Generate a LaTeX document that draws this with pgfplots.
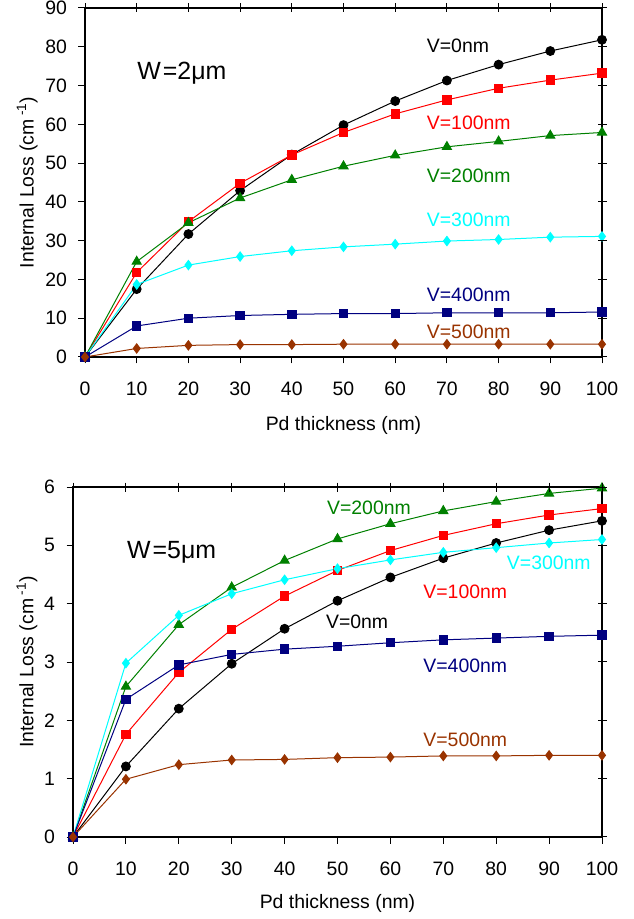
\documentclass[border=0pt]{standalone}
\usepackage{fontspec}
\setmainfont{Liberation Sans}
\usepackage{pgfplots}
\pgfplotsset{compat=1.18}

\definecolor{cV0}{RGB}{0,0,0}
\definecolor{cV100}{RGB}{255,0,0}
\definecolor{cV200}{RGB}{0,128,0}
\definecolor{cV300}{RGB}{0,255,255}
\definecolor{cV400}{RGB}{0,0,128}
\definecolor{cV500}{RGB}{153,51,0}

\newcommand{\lblfont}{\fontsize{19.5}{23}\selectfont}

\pgfplotsset{
  lossaxis/.style={
    scale only axis,
    xmin=0, xmax=100, ymin=0,
    xtick={0,10,...,100},
    tick align=outside, xtick pos=left, ytick pos=left,
    major tick length=6.5bp,
    axis line style={line width=1.2bp},
    every tick/.style={black, line width=1bp},
    tick label style={font=\fontsize{19.5}{22}\selectfont},
    xticklabel style={yshift=-15bp},
    yticklabel style={xshift=-8bp},
    label style={font=\lblfont},
    /pgf/number format/assume math mode=true,
    xlabel={Pd thickness (nm)},
    ylabel={Internal Loss (cm\,\textsuperscript{-1})},
  },
  tickover/.style={
    scale only axis,
    xmin=0, xmax=100, ymin=0,
    xtick={0,10,...,100},
    tick align=center, xtick pos=right, ytick pos=right,
    major tick length=9bp,
    axis line style={draw=none},
    every tick/.style={black, line width=1bp},
    xticklabels={}, yticklabels={},
  },
  s0/.style={cV0, line width=1bp, mark=*, mark size=4.4bp, mark options={solid, fill=cV0}},
  s100/.style={cV100, line width=1bp, mark=square*, mark size=4.2bp, mark options={solid, fill=cV100}},
  s200/.style={cV200, line width=1bp, mark=triangle*, mark size=5.2bp, mark options={solid, fill=cV200}},
  s300/.style={cV300, line width=1bp, mark=diamond*, mark size=4.6bp, mark options={solid, fill=cV300}},
  s400/.style={cV400, line width=1bp, mark=square*, mark size=4.2bp, mark options={solid, fill=cV400}},
  s500/.style={cV500, line width=1bp, mark=diamond*, mark size=4.6bp, mark options={solid, fill=cV500}},
}
\tikzset{vlab/.style={anchor=west, inner sep=0pt, font=\lblfont}}

\begin{document}
\begin{tikzpicture}
\useasboundingbox (0,0) rectangle (634bp,919bp);

% W = 2 um
\begin{axis}[lossaxis,
  at={(85bp,562bp)}, anchor=south west,
  width=517bp, height=349bp,
  ymax=90, ytick={0,10,...,90},
  xlabel style={at={(axis description cs:0.5,-0.195)}, anchor=center},
  ylabel style={at={(axis description cs:-0.112,0.5)}, anchor=center},
]
\addplot[s0] coordinates {(0,0) (10,17.5) (20,31.7) (30,42.9) (40,52.2) (50,59.8) (60,66.0) (70,71.3) (80,75.4) (90,78.9) (100,81.8)};
\addplot[s100] coordinates {(0,0) (10,21.8) (20,34.9) (30,44.8) (40,52.1) (50,57.9) (60,62.7) (70,66.3) (80,69.3) (90,71.4) (100,73.2)};
\addplot[s200] coordinates {(0,0) (10,24.6) (20,34.6) (30,41.0) (40,45.7) (50,49.2) (60,52.0) (70,54.2) (80,55.6) (90,57.1) (100,57.9)};
\addplot[s300] coordinates {(0,0) (10,18.7) (20,23.7) (30,25.9) (40,27.4) (50,28.4) (60,29.1) (70,29.9) (80,30.3) (90,30.9) (100,31.1)};
\addplot[s400] coordinates {(0,0) (10,8.0) (20,10.0) (30,10.7) (40,11.0) (50,11.2) (60,11.2) (70,11.4) (80,11.4) (90,11.4) (100,11.6)};
\addplot[s500] coordinates {(0,0) (10,2.2) (20,3.0) (30,3.2) (40,3.2) (50,3.3) (60,3.3) (70,3.3) (80,3.3) (90,3.3) (100,3.3)};
\node[vlab, text=cV0] at (axis cs:66.1,80.2) {V=0nm};
\node[vlab, text=cV100] at (axis cs:66.1,60.4) {V=100nm};
\node[vlab, text=cV200] at (axis cs:66.1,46.7) {V=200nm};
\node[vlab, text=cV300] at (axis cs:66.1,35.3) {V=300nm};
\node[vlab, text=cV400] at (axis cs:66.1,16.0) {V=400nm};
\node[vlab, text=cV500] at (axis cs:66.1,6.4) {V=500nm};
\node[anchor=west, inner sep=0pt, font=\fontsize{25}{28}\selectfont] at (axis cs:10.1,73.2) {W\hspace{2bp}=2μm};
\end{axis}
\begin{axis}[tickover,
  at={(85bp,562bp)}, anchor=south west,
  width=517bp, height=349bp,
  ymax=90, ytick={0,10,...,90},
]
\end{axis}

% W = 5 um
\begin{axis}[lossaxis,
  at={(73bp,82bp)}, anchor=south west,
  width=529bp, height=350bp,
  ymax=6, ytick={0,1,...,6},
  xlabel style={at={(axis description cs:0.5,-0.189)}, anchor=center},
  ylabel style={at={(axis description cs:-0.087,0.5)}, anchor=center},
]
\addplot[s0] coordinates {(0,0) (10,1.21) (20,2.20) (30,2.97) (40,3.57) (50,4.05) (60,4.45) (70,4.78) (80,5.04) (90,5.26) (100,5.42)};
\addplot[s100] coordinates {(0,0) (10,1.76) (20,2.82) (30,3.56) (40,4.13) (50,4.57) (60,4.91) (70,5.17) (80,5.37) (90,5.52) (100,5.63)};
\addplot[s200] coordinates {(0,0) (10,2.58) (20,3.64) (30,4.28) (40,4.74) (50,5.11) (60,5.37) (70,5.59) (80,5.75) (90,5.89) (100,5.98)};
\addplot[s300] coordinates {(0,0) (10,2.98) (20,3.80) (30,4.17) (40,4.41) (50,4.60) (60,4.75) (70,4.88) (80,4.96) (90,5.04) (100,5.10)};
\addplot[s400] coordinates {(0,0) (10,2.36) (20,2.95) (30,3.13) (40,3.22) (50,3.27) (60,3.33) (70,3.38) (80,3.41) (90,3.44) (100,3.46)};
\addplot[s500] coordinates {(0,0) (10,0.99) (20,1.24) (30,1.32) (40,1.33) (50,1.36) (60,1.37) (70,1.39) (80,1.39) (90,1.40) (100,1.40)};
\node[vlab, text=cV200] at (axis cs:48.0,5.65) {V=200nm};
\node[vlab, text=cV300] at (axis cs:82.0,4.70) {V=300nm};
\node[vlab, text=cV100] at (axis cs:66.2,4.21) {V=100nm};
\node[vlab, text=cV0] at (axis cs:47.8,3.69) {V=0nm};
\node[vlab, text=cV400] at (axis cs:66.2,2.93) {V=400nm};
\node[vlab, text=cV500] at (axis cs:66.2,1.67) {V=500nm};
\node[anchor=west, inner sep=0pt, font=\fontsize{25}{28}\selectfont] at (axis cs:10.2,4.88) {W\hspace{2bp}=5μm};
\end{axis}
\begin{axis}[tickover,
  at={(73bp,82bp)}, anchor=south west,
  width=529bp, height=350bp,
  ymax=6, ytick={0,1,...,6},
]
\end{axis}
\end{tikzpicture}
\end{document}
